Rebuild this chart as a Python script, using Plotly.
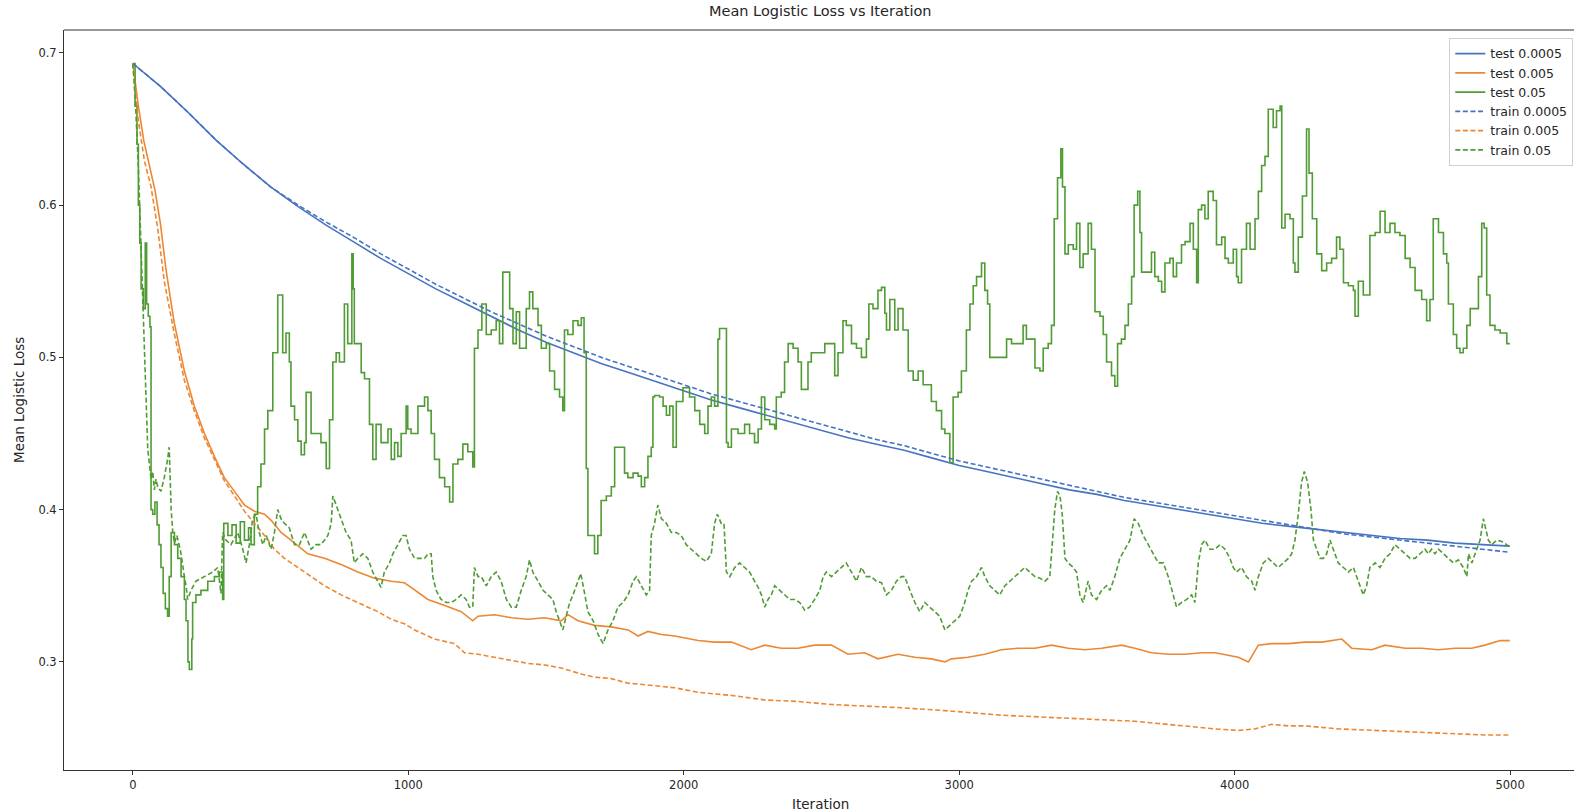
import plotly.graph_objects as go

# ---- learning rate 0.0005 (smooth curves, sampled every 100 iterations) ----
it_lr_small = [0, 100, 200, 300, 400, 500, 600, 700, 800, 900, 1000, 1100, 1200, 1300, 1400,
               1500, 1600, 1700, 1800, 1900, 2000, 2100, 2200, 2300, 2400, 2500, 2600, 2700,
               2800, 2900, 3000, 3100, 3200, 3300, 3400, 3500, 3600, 3700, 3800, 3900, 4000,
               4100, 4200, 4300, 4400, 4500, 4600, 4700, 4800, 4900, 4999]
test_lr_small = [0.693, 0.678, 0.661, 0.643, 0.627, 0.612, 0.599, 0.587, 0.576, 0.565, 0.555,
                 0.545, 0.536, 0.527, 0.518, 0.510, 0.503, 0.496, 0.490, 0.484, 0.478, 0.472,
                 0.467, 0.462, 0.457, 0.452, 0.447, 0.443, 0.439, 0.434, 0.429, 0.425, 0.421,
                 0.417, 0.413, 0.410, 0.406, 0.403, 0.400, 0.397, 0.394, 0.391, 0.389, 0.387,
                 0.385, 0.383, 0.381, 0.380, 0.378, 0.377, 0.376]
train_lr_small = [0.693, 0.678, 0.661, 0.643, 0.627, 0.612, 0.600, 0.589, 0.579, 0.568, 0.558,
                  0.548, 0.539, 0.530, 0.522, 0.514, 0.507, 0.500, 0.494, 0.488, 0.482, 0.476,
                  0.471, 0.466, 0.461, 0.456, 0.451, 0.446, 0.442, 0.437, 0.432, 0.428, 0.424,
                  0.420, 0.416, 0.412, 0.408, 0.405, 0.402, 0.399, 0.396, 0.393, 0.390, 0.387,
                  0.384, 0.382, 0.380, 0.378, 0.376, 0.374, 0.372]

# ---- learning rate 0.005 ----
it_test_mid = [0, 20, 40, 60, 80, 100, 120, 150, 187, 223, 260, 296, 332, 369, 405, 441, 478,
               502, 538, 574, 635, 696, 756, 817, 877, 938, 986, 1010, 1071, 1132, 1192, 1234,
               1253, 1313, 1374, 1434, 1495, 1555, 1580, 1616, 1676, 1737, 1798, 1834, 1870,
               1919, 1967, 2052, 2112, 2173, 2245, 2294, 2354, 2415, 2475, 2536, 2596, 2657,
               2705, 2778, 2839, 2899, 2948, 2972, 3032, 3093, 3153, 3214, 3275, 3335, 3396,
               3456, 3517, 3589, 3638, 3698, 3759, 3820, 3880, 3929, 3953, 4013, 4050, 4068,
               4086, 4134, 4195, 4255, 4316, 4389, 4425, 4498, 4546, 4619, 4679, 4740, 4800,
               4861, 4909, 4964, 4999]
test_mid = [0.693, 0.665, 0.642, 0.627, 0.610, 0.588, 0.558, 0.523, 0.491, 0.468, 0.450, 0.435,
            0.421, 0.412, 0.403, 0.399, 0.397, 0.393, 0.385, 0.380, 0.371, 0.368, 0.364, 0.359,
            0.355, 0.353, 0.352, 0.349, 0.341, 0.337, 0.333, 0.327, 0.330, 0.331, 0.329, 0.328,
            0.329, 0.327, 0.331, 0.327, 0.324, 0.323, 0.321, 0.317, 0.320, 0.318, 0.317, 0.314,
            0.313, 0.313, 0.308, 0.311, 0.309, 0.309, 0.311, 0.311, 0.305, 0.306, 0.302, 0.305,
            0.303, 0.302, 0.300, 0.302, 0.303, 0.305, 0.308, 0.309, 0.309, 0.311, 0.309, 0.308,
            0.309, 0.311, 0.309, 0.306, 0.305, 0.305, 0.306, 0.306, 0.305, 0.303, 0.300, 0.306,
            0.311, 0.312, 0.312, 0.313, 0.313, 0.315, 0.309, 0.308, 0.311, 0.309, 0.309, 0.308,
            0.309, 0.309, 0.311, 0.314, 0.314]

it_train_mid = [0, 17, 42, 66, 90, 114, 151, 187, 223, 260, 296, 332, 369, 405, 441, 478, 514,
                550, 599, 647, 696, 756, 817, 889, 938, 986, 1023, 1095, 1168, 1204, 1253, 1313,
                1374, 1434, 1495, 1555, 1628, 1676, 1737, 1798, 1858, 1919, 1967, 2052, 2173,
                2294, 2415, 2536, 2657, 2778, 2948, 3153, 3396, 3638, 3929, 4013, 4074, 4134,
                4195, 4255, 4376, 4498, 4619, 4740, 4909, 4999]
train_mid = [0.693, 0.659, 0.629, 0.612, 0.585, 0.550, 0.515, 0.485, 0.465, 0.447, 0.433, 0.419,
             0.409, 0.399, 0.391, 0.383, 0.374, 0.368, 0.362, 0.356, 0.350, 0.344, 0.339, 0.333,
             0.328, 0.325, 0.321, 0.315, 0.312, 0.306, 0.305, 0.303, 0.301, 0.299, 0.298, 0.296,
             0.292, 0.290, 0.289, 0.286, 0.285, 0.284, 0.283, 0.280, 0.278, 0.275, 0.274, 0.272,
             0.271, 0.270, 0.268, 0.265, 0.263, 0.261, 0.256, 0.255, 0.256, 0.259, 0.258, 0.258,
             0.256, 0.255, 0.254, 0.253, 0.252, 0.252]

# ---- learning rate 0.05 (noisy) ----
it_test_big = [0, 8, 15, 20, 25, 30, 38, 45, 50, 56, 62, 66, 72, 80, 88, 95, 102, 110, 118, 126,
               132, 139, 151, 163, 175, 187, 193, 200, 205, 214, 217, 229, 247, 272, 296, 314,
               326, 330, 345, 360, 375, 390, 405, 420, 429, 441, 453, 465, 478, 490, 502, 508,
               520, 526, 538, 544, 556, 568, 574, 587, 599, 611, 623, 629, 641, 647, 665, 683,
               702, 714, 726, 738, 750, 768, 780, 795, 800, 804, 817, 829, 841, 859, 871, 883,
               901, 926, 938, 950, 962, 974, 992, 998, 1010, 1035, 1059, 1071, 1083, 1095, 1113,
               1132, 1150, 1162, 1180, 1198, 1216, 1234, 1240, 1253, 1267, 1283, 1301, 1319,
               1331, 1343, 1355, 1368, 1380, 1392, 1404, 1416, 1428, 1440, 1452, 1471, 1483,
               1501, 1513, 1531, 1549, 1561, 1567, 1579, 1598, 1616, 1628, 1638, 1646, 1652,
               1664, 1676, 1688, 1700, 1719, 1737, 1749, 1773, 1785, 1797, 1816, 1834, 1846,
               1858, 1870, 1882, 1888, 1894, 1912, 1925, 1937, 1949, 1961, 1973, 1997, 2021,
               2040, 2058, 2076, 2088, 2100, 2112, 2124, 2130, 2148, 2155, 2161, 2173, 2197,
               2221, 2239, 2257, 2270, 2282, 2294, 2312, 2330, 2336, 2354, 2366, 2379, 2397,
               2415, 2427, 2439, 2451, 2463, 2488, 2512, 2536, 2548, 2560, 2578, 2590, 2609,
               2627, 2645, 2663, 2672, 2687, 2705, 2718, 2730, 2736, 2748, 2766, 2778, 2796,
               2815, 2833, 2851, 2869, 2887, 2899, 2917, 2936, 2948, 2954, 2966, 2978, 2996,
               3008, 3026, 3039, 3051, 3063, 3081, 3093, 3103, 3111, 3135, 3153, 3172, 3190,
               3214, 3232, 3244, 3269, 3275, 3293, 3305, 3323, 3335, 3345, 3357, 3369, 3375,
               3384, 3396, 3414, 3426, 3438, 3450, 3468, 3480, 3493, 3511, 3523, 3535, 3553,
               3565, 3575, 3589, 3602, 3614, 3626, 3635, 3648, 3656, 3662, 3686, 3698, 3710,
               3723, 3735, 3747, 3765, 3777, 3789, 3807, 3820, 3838, 3850, 3862, 3868, 3880,
               3892, 3904, 3922, 3934, 3953, 3965, 3977, 3995, 4007, 4013, 4025, 4043, 4056,
               4068, 4074, 4086, 4098, 4110, 4122, 4140, 4152, 4165, 4171, 4183, 4201, 4213,
               4219, 4231, 4246, 4261, 4270, 4282, 4298, 4316, 4334, 4352, 4370, 4382, 4395,
               4413, 4431, 4437, 4449, 4467, 4485, 4491, 4510, 4528, 4546, 4564, 4582, 4600,
               4619, 4637, 4655, 4679, 4697, 4709, 4721, 4740, 4758, 4770, 4776, 4794, 4806,
               4818, 4830, 4843, 4855, 4873, 4885, 4897, 4906, 4915, 4927, 4945, 4964, 4988,
               4999]
test_big = [0.693, 0.665, 0.640, 0.600, 0.575, 0.545, 0.532, 0.575, 0.535, 0.527, 0.520, 0.400,
            0.397, 0.405, 0.390, 0.377, 0.362, 0.345, 0.335, 0.330, 0.356, 0.385, 0.377, 0.368,
            0.356, 0.341, 0.327, 0.300, 0.295, 0.315, 0.339, 0.344, 0.347, 0.353, 0.356, 0.359,
            0.341, 0.391, 0.383, 0.390, 0.378, 0.392, 0.380, 0.388, 0.377, 0.397, 0.415, 0.430,
            0.453, 0.465, 0.465, 0.503, 0.503, 0.541, 0.541, 0.503, 0.516, 0.497, 0.468, 0.459,
            0.445, 0.436, 0.444, 0.477, 0.477, 0.450, 0.450, 0.444, 0.427, 0.459, 0.497, 0.503,
            0.497, 0.535, 0.509, 0.568, 0.545, 0.509, 0.509, 0.490, 0.486, 0.456, 0.433, 0.456,
            0.444, 0.453, 0.433, 0.444, 0.435, 0.450, 0.468, 0.453, 0.450, 0.468, 0.474, 0.465,
            0.450, 0.433, 0.421, 0.415, 0.405, 0.430, 0.433, 0.443, 0.438, 0.428, 0.506, 0.518,
            0.535, 0.515, 0.518, 0.524, 0.509, 0.556, 0.556, 0.532, 0.509, 0.530, 0.506, 0.506,
            0.532, 0.543, 0.532, 0.521, 0.506, 0.509, 0.491, 0.479, 0.474, 0.465, 0.518, 0.515,
            0.524, 0.521, 0.526, 0.503, 0.427, 0.383, 0.383, 0.371, 0.383, 0.406, 0.409, 0.415,
            0.441, 0.441, 0.424, 0.421, 0.424, 0.422, 0.415, 0.421, 0.435, 0.441, 0.474, 0.475,
            0.474, 0.468, 0.462, 0.468, 0.441, 0.471, 0.480, 0.474, 0.465, 0.456, 0.450, 0.468,
            0.474, 0.468, 0.512, 0.519, 0.519, 0.444, 0.441, 0.453, 0.450, 0.456, 0.450, 0.444,
            0.453, 0.474, 0.459, 0.456, 0.453, 0.474, 0.477, 0.497, 0.509, 0.506, 0.497, 0.479,
            0.479, 0.497, 0.503, 0.503, 0.509, 0.509, 0.488, 0.503, 0.524, 0.521, 0.509, 0.506,
            0.500, 0.512, 0.535, 0.532, 0.544, 0.546, 0.529, 0.518, 0.538, 0.518, 0.532, 0.518,
            0.491, 0.485, 0.491, 0.482, 0.482, 0.471, 0.465, 0.453, 0.450, 0.450, 0.431, 0.474,
            0.477, 0.491, 0.518, 0.535, 0.547, 0.553, 0.562, 0.544, 0.535, 0.500, 0.500, 0.500,
            0.512, 0.509, 0.509, 0.521, 0.512, 0.512, 0.493, 0.491, 0.506, 0.509, 0.521, 0.591,
            0.618, 0.637, 0.612, 0.568, 0.574, 0.571, 0.588, 0.559, 0.568, 0.588, 0.571, 0.530,
            0.527, 0.515, 0.497, 0.488, 0.481, 0.509, 0.512, 0.521, 0.535, 0.553, 0.600, 0.609,
            0.582, 0.556, 0.556, 0.569, 0.553, 0.550, 0.543, 0.562, 0.565, 0.553, 0.562, 0.574,
            0.576, 0.588, 0.571, 0.549, 0.597, 0.600, 0.591, 0.609, 0.603, 0.574, 0.579, 0.565,
            0.562, 0.571, 0.553, 0.549, 0.571, 0.588, 0.571, 0.571, 0.591, 0.609, 0.626, 0.632,
            0.663, 0.651, 0.662, 0.665, 0.585, 0.594, 0.591, 0.562, 0.556, 0.579, 0.606, 0.650,
            0.621, 0.591, 0.568, 0.557, 0.562, 0.565, 0.579, 0.571, 0.549, 0.547, 0.544, 0.527,
            0.550, 0.541, 0.541, 0.580, 0.582, 0.596, 0.582, 0.588, 0.582, 0.580, 0.565, 0.559,
            0.544, 0.538, 0.524, 0.538, 0.591, 0.582, 0.568, 0.562, 0.535, 0.515, 0.506, 0.503,
            0.506, 0.521, 0.532, 0.532, 0.553, 0.588, 0.585, 0.541, 0.521, 0.518, 0.516, 0.509,
            0.509]

it_train_big = [0, 10, 20, 30, 40, 48, 54, 60, 66, 72, 78, 84, 90, 102, 114, 126, 132, 139, 145,
                151, 160, 169, 175, 187, 193, 199, 211, 229, 260, 290, 308, 320, 326, 338, 356,
                381, 399, 411, 423, 435, 447, 459, 472, 484, 502, 514, 526, 538, 550, 568, 587,
                605, 623, 635, 647, 665, 683, 696, 708, 720, 726, 738, 756, 774, 792, 804, 817,
                835, 853, 871, 889, 901, 913, 932, 944, 962, 980, 992, 1004, 1023, 1041, 1059,
                1071, 1083, 1089, 1101, 1119, 1138, 1156, 1174, 1192, 1210, 1222, 1234, 1240,
                1253, 1265, 1283, 1301, 1319, 1337, 1356, 1374, 1392, 1410, 1428, 1440, 1452,
                1471, 1489, 1507, 1525, 1537, 1549, 1561, 1573, 1586, 1598, 1616, 1626, 1638,
                1652, 1671, 1689, 1707, 1725, 1743, 1761, 1779, 1798, 1816, 1828, 1846, 1864,
                1876, 1882, 1894, 1906, 1919, 1937, 1955, 1973, 1991, 2009, 2027, 2046, 2064,
                2082, 2100, 2112, 2122, 2136, 2146, 2155, 2167, 2185, 2203, 2221, 2239, 2257,
                2270, 2282, 2294, 2306, 2318, 2330, 2348, 2366, 2385, 2403, 2421, 2439, 2457,
                2475, 2494, 2506, 2518, 2536, 2554, 2572, 2590, 2609, 2627, 2645, 2663, 2681,
                2699, 2718, 2736, 2754, 2772, 2790, 2802, 2821, 2839, 2857, 2875, 2893, 2911,
                2929, 2948, 2966, 2984, 3002, 3020, 3032, 3045, 3063, 3081, 3093, 3111, 3129,
                3147, 3166, 3184, 3202, 3220, 3238, 3256, 3275, 3293, 3311, 3329, 3338, 3347,
                3357, 3366, 3374, 3384, 3396, 3414, 3426, 3438, 3450, 3468, 3480, 3499, 3517,
                3535, 3547, 3565, 3583, 3602, 3620, 3635, 3650, 3668, 3686, 3704, 3723, 3741,
                3759, 3777, 3789, 3807, 3826, 3844, 3856, 3868, 3880, 3892, 3910, 3928, 3947,
                3965, 3983, 3995, 4007, 4025, 4043, 4062, 4074, 4086, 4104, 4122, 4140, 4158,
                4177, 4195, 4207, 4219, 4231, 4243, 4253, 4265, 4277, 4286, 4298, 4310, 4322,
                4334, 4346, 4358, 4376, 4395, 4413, 4431, 4443, 4455, 4467, 4479, 4491, 4510,
                4528, 4546, 4564, 4582, 4600, 4619, 4637, 4655, 4673, 4691, 4703, 4715, 4727,
                4740, 4758, 4776, 4794, 4812, 4830, 4843, 4849, 4861, 4879, 4891, 4903, 4913,
                4921, 4933, 4952, 4970, 4988, 4999]
train_big = [0.693, 0.665, 0.625, 0.570, 0.520, 0.470, 0.440, 0.430, 0.420, 0.425, 0.413, 0.420,
             0.415, 0.412, 0.421, 0.433, 0.441, 0.400, 0.385, 0.378, 0.383, 0.376, 0.371, 0.356,
             0.350, 0.341, 0.347, 0.353, 0.356, 0.359, 0.362, 0.345, 0.385, 0.380, 0.377, 0.385,
             0.374, 0.365, 0.377, 0.394, 0.397, 0.385, 0.377, 0.383, 0.374, 0.385, 0.400, 0.394,
             0.391, 0.388, 0.377, 0.377, 0.385, 0.380, 0.374, 0.377, 0.377, 0.380, 0.383, 0.391,
             0.409, 0.403, 0.394, 0.385, 0.380, 0.365, 0.368, 0.371, 0.368, 0.359, 0.353, 0.349,
             0.359, 0.365, 0.371, 0.377, 0.383, 0.383, 0.374, 0.368, 0.368, 0.368, 0.371, 0.371,
             0.356, 0.347, 0.341, 0.339, 0.339, 0.341, 0.344, 0.341, 0.336, 0.336, 0.362, 0.356,
             0.356, 0.350, 0.356, 0.359, 0.353, 0.341, 0.336, 0.336, 0.347, 0.356, 0.367, 0.359,
             0.353, 0.347, 0.344, 0.341, 0.333, 0.327, 0.321, 0.330, 0.339, 0.344, 0.353, 0.358,
             0.347, 0.333, 0.327, 0.318, 0.312, 0.321, 0.327, 0.336, 0.339, 0.344, 0.353, 0.356,
             0.350, 0.344, 0.347, 0.383, 0.391, 0.403, 0.394, 0.391, 0.385, 0.385, 0.383, 0.377,
             0.374, 0.371, 0.368, 0.366, 0.371, 0.391, 0.397, 0.391, 0.391, 0.359, 0.356, 0.362,
             0.365, 0.362, 0.359, 0.353, 0.349, 0.344, 0.336, 0.341, 0.344, 0.350, 0.347, 0.344,
             0.341, 0.341, 0.339, 0.334, 0.336, 0.341, 0.347, 0.356, 0.359, 0.356, 0.359, 0.362,
             0.365, 0.359, 0.353, 0.362, 0.356, 0.356, 0.353, 0.352, 0.344, 0.347, 0.353, 0.356,
             0.356, 0.347, 0.339, 0.333, 0.339, 0.336, 0.333, 0.330, 0.321, 0.324, 0.327, 0.330,
             0.339, 0.347, 0.353, 0.356, 0.362, 0.356, 0.350, 0.347, 0.344, 0.350, 0.353, 0.356,
             0.359, 0.362, 0.359, 0.356, 0.355, 0.353, 0.356, 0.377, 0.400, 0.412, 0.409, 0.397,
             0.368, 0.365, 0.362, 0.359, 0.344, 0.339, 0.353, 0.344, 0.341, 0.347, 0.350, 0.347,
             0.356, 0.368, 0.374, 0.380, 0.394, 0.391, 0.383, 0.377, 0.371, 0.365, 0.365, 0.356,
             0.344, 0.336, 0.339, 0.341, 0.344, 0.339, 0.365, 0.377, 0.380, 0.374, 0.374, 0.377,
             0.374, 0.368, 0.362, 0.359, 0.362, 0.356, 0.353, 0.347, 0.356, 0.365, 0.368, 0.365,
             0.362, 0.365, 0.368, 0.371, 0.380, 0.397, 0.418, 0.425, 0.418, 0.400, 0.380, 0.374,
             0.368, 0.368, 0.371, 0.380, 0.374, 0.365, 0.362, 0.359, 0.362, 0.356, 0.350, 0.344,
             0.350, 0.362, 0.365, 0.362, 0.368, 0.371, 0.377, 0.374, 0.371, 0.368, 0.368, 0.371,
             0.374, 0.371, 0.374, 0.371, 0.374, 0.371, 0.368, 0.365, 0.367, 0.362, 0.356, 0.371,
             0.365, 0.374, 0.380, 0.394, 0.385, 0.380, 0.377, 0.380, 0.379, 0.377, 0.375]

BLUE = "#4673c2"
ORANGE = "#ec8733"
GREEN = "#509c34"
DASH = "5px,2.6px"
LW = 1.6

fig = go.Figure()
fig.add_trace(go.Scatter(x=it_lr_small, y=test_lr_small, mode="lines", name="test 0.0005",
                         line=dict(color=BLUE, width=LW)))
fig.add_trace(go.Scatter(x=it_test_mid, y=test_mid, mode="lines", name="test 0.005",
                         line=dict(color=ORANGE, width=LW)))
fig.add_trace(go.Scatter(x=it_test_big, y=test_big, mode="lines", name="test 0.05",
                         line=dict(color=GREEN, width=LW, shape="hv")))
fig.add_trace(go.Scatter(x=it_lr_small, y=train_lr_small, mode="lines", name="train 0.0005",
                         line=dict(color=BLUE, width=LW, dash=DASH)))
fig.add_trace(go.Scatter(x=it_train_mid, y=train_mid, mode="lines", name="train 0.005",
                         line=dict(color=ORANGE, width=LW, dash=DASH)))
fig.add_trace(go.Scatter(x=it_train_big, y=train_big, mode="lines", name="train 0.05",
                         line=dict(color=GREEN, width=LW, dash=DASH)))

FONT = "DejaVu Sans"
TXT = "#262626"

fig.update_layout(
    width=1574, height=812,
    margin=dict(l=64, r=0, t=30, b=42),
    paper_bgcolor="white", plot_bgcolor="white",
    font=dict(family=FONT, size=12, color=TXT),
    showlegend=True,
    legend=dict(x=0.9995, y=0.9892, xanchor="right", yanchor="top",
                bgcolor="rgba(255,255,255,0.85)", bordercolor="#d0d0d0", borderwidth=1,
                font=dict(family=FONT, size=12.5, color=TXT), tracegroupgap=0, itemwidth=30),
    xaxis=dict(range=[-250, 5232], tickvals=[0, 1000, 2000, 3000, 4000, 5000],
               showgrid=False, zeroline=False, showline=True, linecolor="#333", linewidth=1,
               ticks="outside", ticklen=4, tickcolor="#333",
               tickfont=dict(family=FONT, size=11.5, color=TXT)),
    yaxis=dict(range=[0.229, 0.715], tickvals=[0.3, 0.4, 0.5, 0.6, 0.7],
               ticktext=["0.3", "0.4", "0.5", "0.6", "0.7"],
               showgrid=False, zeroline=False, showline=True, linecolor="#333", linewidth=1,
               ticks="outside", ticklen=4, tickcolor="#333",
               tickfont=dict(family=FONT, size=11.5, color=TXT)),
    shapes=[dict(type="line", xref="paper", yref="paper", x0=0, x1=1, y0=1, y1=1,
                 line=dict(color="#333", width=1))],
    annotations=[
        dict(text="Mean Logistic Loss vs Iteration", xref="paper", yref="paper",
             x=0.5013, y=1 + 19 / 740, xanchor="center", yanchor="middle", showarrow=False,
             font=dict(family=FONT, size=14.5, color=TXT)),
        dict(text="Iteration", xref="paper", yref="paper", x=0.5013, y=-34 / 740,
             xanchor="center", yanchor="middle", showarrow=False,
             font=dict(family=FONT, size=13.5, color=TXT)),
        dict(text="Mean Logistic Loss", xref="paper", yref="paper", x=-45 / 1510, y=0.5,
             xanchor="center", yanchor="middle", textangle=-90, showarrow=False,
             font=dict(family=FONT, size=13.5, color=TXT)),
    ],
)

fig.write_html("out.html")
